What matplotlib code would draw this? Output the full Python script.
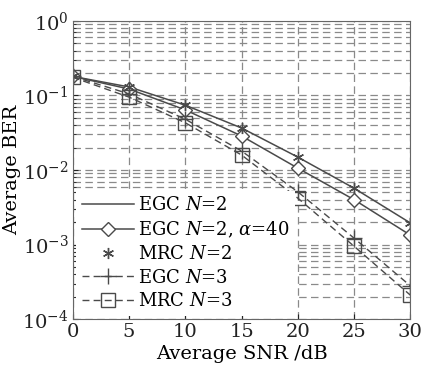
import matplotlib
matplotlib.use("Agg")
import matplotlib.pyplot as plt
from matplotlib.ticker import LogLocator, NullFormatter

plt.rcParams["font.family"] = ["DejaVu Serif"]
plt.rcParams["mathtext.fontset"] = "dejavuserif"

# ---------------------------------------------------------------------
# Data
# ---------------------------------------------------------------------
snr_db = [0, 5, 10, 15, 20, 25, 30]

egc_n2 = [0.18, 0.13, 0.074, 0.0366, 0.0149, 0.0057, 0.00195]
egc_n2_alpha40 = [0.18, 0.122, 0.064, 0.0286, 0.0106, 0.0040, 0.00134]
mrc_n2 = [0.18, 0.13, 0.074, 0.0366, 0.0149, 0.0057, 0.00195]
egc_n3 = [0.18, 0.105, 0.048, 0.018, 0.0051, 0.00122, 0.00028]
mrc_n3 = [0.175, 0.095, 0.043, 0.0159, 0.0042, 0.00095, 0.00021]

line_color = "#4a4a4a"
grid_color = "#8a8a8a"

fig = plt.figure(figsize=(4.23, 3.66), dpi=100)
ax = fig.add_axes([0.172, 0.128, 0.798, 0.815])

ax.plot(snr_db, egc_n2, "-", color=line_color, lw=1.1, label=r"EGC $N$=2")
ax.plot(snr_db, egc_n2_alpha40, "-", color=line_color, lw=1.1,
        marker="D", markersize=7, mfc="white", mec=line_color, mew=1.0,
        label=r"EGC $N$=2, $\alpha$=40")
ax.plot(snr_db, mrc_n2, linestyle="none", color=line_color,
        marker=(6, 2, 0), markersize=8, mec=line_color, mew=1.0,
        label=r"MRC $N$=2")
ax.plot(snr_db, egc_n3, color=line_color, lw=1.0, dashes=(5, 3),
        marker="+", markersize=11, mew=1.0, label=r"EGC $N$=3")
ax.plot(snr_db, mrc_n3, color=line_color, lw=1.0, dashes=(5, 3),
        marker="s", markersize=10, mfc="none", mec=line_color, mew=1.0,
        label=r"MRC $N$=3")

ax.set_yscale("log")
ax.set_xlim(0, 30)
ax.set_ylim(1e-4, 1)
ax.set_xticks(range(0, 31, 5))
ax.yaxis.set_major_locator(LogLocator(base=10, numticks=10))
ax.yaxis.set_minor_locator(LogLocator(base=10, subs=range(2, 10), numticks=20))
ax.yaxis.set_minor_formatter(NullFormatter())

ax.grid(True, which="major", axis="both", color=grid_color, lw=0.9,
        linestyle=(0, (6, 3.5)))
ax.grid(True, which="minor", axis="y", color=grid_color, lw=0.9,
        linestyle=(0, (6, 3.5)))
ax.tick_params(which="both", direction="in", labelsize=14, colors="#222222", pad=3)
ax.tick_params(which="minor", length=2)
for s in ax.spines.values():
    s.set_color("#666666")

ax.set_xlabel("Average SNR /dB", fontsize=14, labelpad=3)
ax.set_ylabel("Average BER", fontsize=14, labelpad=1)

leg = ax.legend(loc="lower left", fontsize=13, frameon=True, fancybox=False,
                edgecolor="none", facecolor="white", framealpha=1.0,
                handlelength=2.9, handletextpad=0.2, labelspacing=0.3,
                borderaxespad=0.2, borderpad=0.3)

fig.savefig("out.png", dpi=100)
